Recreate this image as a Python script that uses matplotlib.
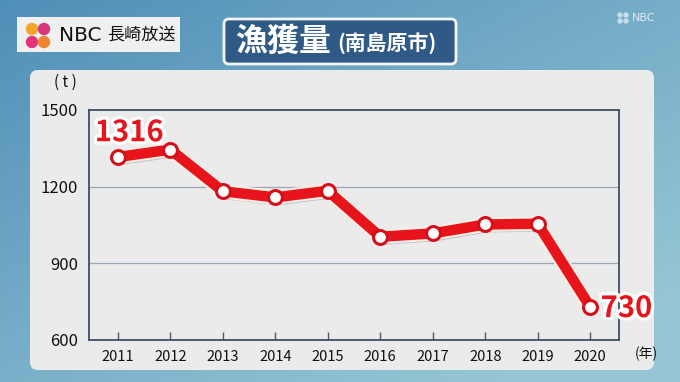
import numpy as np
import matplotlib
matplotlib.use("Agg")
import matplotlib.pyplot as plt
from matplotlib.patches import FancyBboxPatch, Circle
import matplotlib.patheffects as pe

plt.rcParams['font.family'] = ['Noto Sans CJK JP', 'DejaVu Sans']

years = [2011, 2012, 2013, 2014, 2015, 2016, 2017, 2018, 2019, 2020]
catch_t = [1316, 1345, 1182, 1158, 1184, 1004, 1017, 1052, 1055, 730]
year_labels = [str(y) for y in years]
y_ticks = [600, 900, 1200, 1500]
title_main = "漁獲量"
title_sub = "(南島原市)"

W, H = 680, 382
fig = plt.figure(figsize=(W / 100, H / 100), dpi=100)

# background axes in pixel coordinates
bg = fig.add_axes([0, 0, 1, 1])
bg.set_xlim(0, W)
bg.set_ylim(H, 0)
bg.axis('off')
xx, yy = np.meshgrid(np.linspace(0, 1, 200), np.linspace(0, 1, 120))
t = np.clip(0.55 * xx + 0.6 * yy, 0, 1)
c0 = np.array([80, 143, 184]) / 255
c1 = np.array([150, 198, 212]) / 255
img = c0[None, None, :] * (1 - t[..., None]) + c1[None, None, :] * t[..., None]
bg.imshow(img, extent=[0, W, H, 0], aspect='auto', zorder=0)

# panel
bg.add_patch(FancyBboxPatch((30, 70), 624, 300,
                            boxstyle="round,pad=0,rounding_size=8",
                            fc='#ebebeb', ec='none', zorder=1))

# logo box
bg.add_patch(FancyBboxPatch((17, 17), 163, 35, boxstyle="square,pad=0",
                            fc='#f0f0f0', ec='none', zorder=1))
for (cx, cy, col) in [(32, 29, '#f2a52a'), (44, 29, '#d8367f'),
                      (32, 42, '#e0357a'), (44, 42, '#ef8530')]:
    bg.add_patch(Circle((cx, cy), 6.2, fc=col, ec='none', zorder=2))
bg.text(59, 35.5, "NBC", fontsize=14.5, color='#111111', va='center', ha='left',
        family=['DejaVu Sans'], zorder=3)
bg.text(107, 35, "長崎放送", fontsize=12.3, color='#111111', va='center', ha='left',
        zorder=3)

# title box
bg.add_patch(FancyBboxPatch((224, 19), 232, 45,
                            boxstyle="round,pad=0,rounding_size=5",
                            fc='#2f5a86', ec='#f4f4f4', lw=2, zorder=1))
bg.text(235, 42, title_main, fontsize=23, fontweight='bold', color='white',
        va='center', ha='left', zorder=3)
bg.text(337, 43, title_sub, fontsize=15, fontweight='bold', color='white',
        va='center', ha='left', zorder=3)

# top-right watermark
bg.text(632, 18, "NBC", fontsize=8, color='white', alpha=0.75, va='center',
        ha='left', family=['DejaVu Sans'], zorder=3)
for (cx, cy) in [(620, 15), (626, 15), (620, 21), (626, 21)]:
    bg.add_patch(Circle((cx, cy), 2.7, fc='white', alpha=0.6, ec='none', zorder=2))

# chart axes
x0, x1, ytop, ybot = 89, 619, 110, 340
ax = fig.add_axes([x0 / W, (H - ybot) / H, (x1 - x0) / W, (ybot - ytop) / H])
ax.set_facecolor('none')
ax.set_xlim(2010.45, 2020.55)
ax.set_ylim(600, 1500)
ax.set_yticks(y_ticks)
ax.set_yticklabels([str(v) for v in y_ticks], fontsize=12, color='#111111')
ax.tick_params(axis='y', length=0, pad=8)
ax.set_xticks(years)
ax.set_xticklabels(year_labels, fontsize=10.5, color='#111111')
ax.tick_params(axis='x', direction='in', length=6, width=1, color='#4a5a6a', pad=7)
for s in ax.spines.values():
    s.set_color('#3e4f63')
    s.set_linewidth(1.3)
for v in [900, 1200]:
    ax.axhline(v, color='#9aa6b2', lw=0.9, zorder=1)

ax.plot(years, catch_t, color='#e8141b', lw=7.5, solid_joinstyle='miter',
        solid_capstyle='butt', zorder=3,
        path_effects=[pe.SimpleLineShadow(offset=(1.5, -2), shadow_color='#999999', alpha=0.5),
                      pe.Stroke(linewidth=10.5, foreground='#fbeee6'),
                      pe.Normal()])
ax.plot(years, catch_t, ls='none', marker='o', ms=10, mfc='white', mec='#d4101a',
        mew=2.2, zorder=4)

stroke = [pe.withStroke(linewidth=4.5, foreground='white')]
ax.text(years[0] - 0.44, catch_t[0] + 97, f"{catch_t[0]}", fontsize=21,
        fontweight='bold', color='#e8141b', ha='left', va='center',
        path_effects=stroke, zorder=5)
ax.text(years[-1] + 0.2, catch_t[-1] - 5, f"{catch_t[-1]}", fontsize=21,
        fontweight='bold', color='#e8141b', ha='left', va='center',
        path_effects=stroke, zorder=5, clip_on=False)

bg.text(65, 82, "( t )", fontsize=11, color='#111111', ha='center', va='center', zorder=3)
bg.text(646, 354, "(年)", fontsize=10, color='#111111', ha='center', va='center', zorder=3)

fig.savefig("out.png", dpi=100)
